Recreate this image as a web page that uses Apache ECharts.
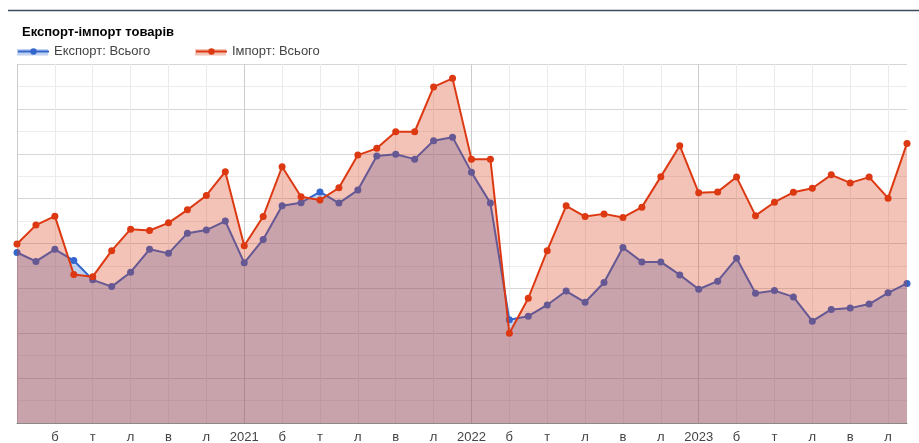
<!DOCTYPE html>
<html>
<head>
<meta charset="utf-8">
<script src="https://cdn.jsdelivr.net/npm/echarts@6/dist/echarts.min.js"></script>
<style>
html,body{margin:0;padding:0;background:#fff;}
#chart{width:919px;height:443px;}
</style>
</head>
<body>
<div id="chart"></div>
<script>
// Data: monthly values Jan 2020 – Dec 2023 (units: major gridline = 1)
const years = ['2020', '2021', '2022', '2023'];
const monthLetters = ['с', 'л', 'б', 'к', 'т', 'ч', 'л', 'с', 'в', 'ж', 'л', 'г'];
const exportValues = [
  3.80, 3.60, 3.87, 3.62, 3.19, 3.04, 3.36, 3.87, 3.78, 4.23, 4.30, 4.50,
  3.57, 4.09, 4.84, 4.91, 5.15, 4.90, 5.19, 5.95, 5.99, 5.88, 6.29, 6.37,
  5.59, 4.90, 2.30, 2.38, 2.63, 2.94, 2.69, 3.13, 3.91, 3.59, 3.59, 3.30,
  2.98, 3.16, 3.67, 2.89, 2.95, 2.81, 2.27, 2.53, 2.56, 2.65, 2.90, 3.11
];
const importValues = [
  3.99, 4.41, 4.61, 3.31, 3.26, 3.84, 4.32, 4.29, 4.46, 4.75, 5.07, 5.60,
  3.95, 4.60, 5.71, 5.04, 4.97, 5.24, 5.97, 6.12, 6.49, 6.49, 7.49, 7.68,
  5.88, 5.88, 2.00, 2.78, 3.84, 4.84, 4.60, 4.66, 4.58, 4.81, 5.49, 6.18,
  5.13, 5.15, 5.48, 4.62, 4.92, 5.14, 5.23, 5.53, 5.35, 5.48, 5.01, 6.23
];
const seriesNames = ['Експорт: Всього', 'Імпорт: Всього'];
const titleText = 'Експорт-імпорт товарів';

const categories = [];
years.forEach(y => monthLetters.forEach((m, i) => categories.push(i === 0 ? y : m)));

const FONT = '"Liberation Sans", Arial, sans-serif';
const chart = echarts.init(document.getElementById('chart'), null, {renderer: 'canvas'});

const gridColors = ['#cccccc', '#ebebeb', '#ebebeb', '#ebebeb', '#ebebeb', '#ebebeb'];

chart.setOption({
  animation: false,
  backgroundColor: '#fff',
  title: {
    text: titleText,
    left: 17, top: 21,
    textStyle: {fontFamily: FONT, fontSize: 13, fontWeight: 'bold', color: '#000'}
  },
  legend: [
    {
      data: [seriesNames[0]],
      left: 17, top: 45,
      itemWidth: 31, itemHeight: 8, itemGap: 0,
      padding: 0,
      textStyle: {fontFamily: FONT, fontSize: 13, color: '#444'}
    },
    {
      data: [seriesNames[1]],
      left: 195, top: 45,
      itemWidth: 31, itemHeight: 8, itemGap: 0,
      padding: 0,
      textStyle: {fontFamily: FONT, fontSize: 13, color: '#444'}
    }
  ],
  graphic: [
    {type: 'line', shape: {x1: 8, y1: 10.5, x2: 919, y2: 10.5}, style: {stroke: '#3e4b5b', lineWidth: 1.5}, silent: true},
    {type: 'rect', shape: {x: 17, y: 49, width: 31, height: 6.5}, style: {fill: 'rgba(51,102,204,0.3)'}, silent: true, z: -1},
    {type: 'rect', shape: {x: 195, y: 49, width: 31, height: 6.5}, style: {fill: 'rgba(220,57,18,0.3)'}, silent: true, z: -1}
  ],
  grid: {left: 17, right: 12, top: 64, bottom: 20, containLabel: false, outerBoundsMode: 'none'},
  xAxis: {
    type: 'category',
    data: categories,
    boundaryGap: false,
    axisLine: {show: true, onZero: false, lineStyle: {color: '#8a8a8a', width: 1}},
    axisTick: {show: false},
    axisLabel: {
      interval: 1,
      showMinLabel: false,
      margin: 8,
      fontFamily: FONT, fontSize: 13, color: '#444'
    },
    splitLine: {show: true, interval: 1, lineStyle: {color: gridColors, width: 1}}
  },
  yAxis: {
    type: 'value',
    min: 0, max: 8, interval: 1,
    axisLine: {show: false},
    axisTick: {show: false},
    axisLabel: {show: false},
    splitLine: {show: true, lineStyle: {color: '#d6d6d6', width: 1}},
    minorTick: {show: false, splitNumber: 2},
    minorSplitLine: {show: true, lineStyle: {color: '#ececec', width: 1}}
  },
  series: [
    {
      name: seriesNames[0],
      type: 'line',
      z: 2,
      data: exportValues,
      color: '#3366cc',
      symbol: 'circle',
      symbolSize: 7,
      showSymbol: true,
      lineStyle: {width: 2, color: '#3366cc'},
      itemStyle: {color: '#3366cc'},
      areaStyle: {color: '#3366cc', opacity: 0.3, origin: 'start'}
    },
    {
      name: seriesNames[1],
      type: 'line',
      z: 3,
      data: importValues,
      color: '#dc3912',
      symbol: 'circle',
      symbolSize: 7,
      showSymbol: true,
      lineStyle: {width: 2, color: '#dc3912'},
      itemStyle: {color: '#dc3912'},
      areaStyle: {color: '#dc3912', opacity: 0.3, origin: 'start'}
    }
  ]
});
</script>
</body>
</html>
